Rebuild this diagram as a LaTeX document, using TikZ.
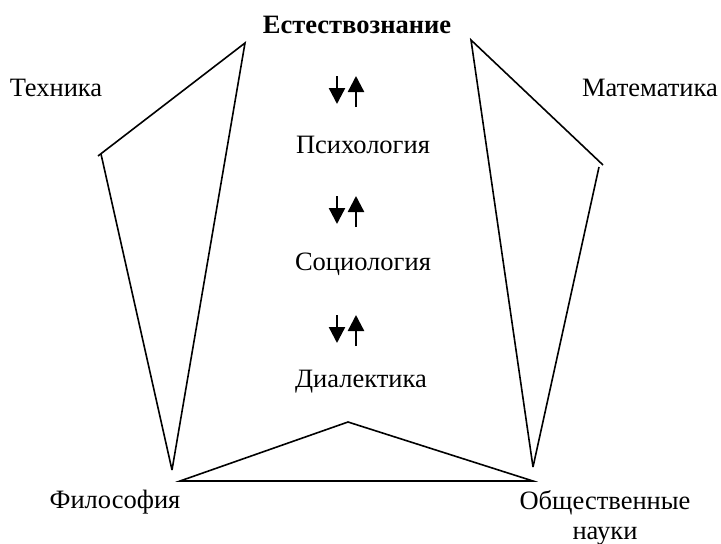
\documentclass[tikz,border=0pt]{standalone}
\usepackage{fontspec}
\setmainfont{Liberation Serif}
\usepackage{tikz}
\usetikzlibrary{positioning, arrows.meta}

\begin{document}
\begin{tikzpicture}[
  x=1pt, y=-1pt,
  term/.style={font=\fontsize{26.5}{30}\selectfont, inner sep=2pt, align=center},
  edge/.style={line width=1.6pt, line join=miter},
  flow/.style={line width=2.4pt, -{Triangle[length=16pt, width=16pt]}},
]
  \useasboundingbox (0,0) rectangle (721,544);

  % Disciplines
  \node[term, font=\fontsize{26.5}{30}\selectfont\bfseries] (nat) at (357,25) {Естествознание};
  \node[term] (tech) at (56,88) {Техника};
  \node[term] (math) at (650,88) {Математика};
  \node[term] (psy) at (363,145) {Психология};
  \node[term] (soc) at (363,264) {Социология};
  \node[term] (dia) at (361,382) {Диалектика};
  \node[term] (phil) at (115,502) {Философия};
  \node[term, anchor=base] (pub) at (605,539) {Общественные\\науки};

  % Corner points of the frame
  \coordinate (lTop) at (245,43);
  \coordinate (lOut) at (98,156);
  \coordinate (lLow) at (172,470);
  \coordinate (rTop) at (471,40);
  \coordinate (rOut) at (603,165);
  \coordinate (rLow) at (533,467);
  \coordinate (apex) at (348,422);
  \coordinate (bL) at (180,481);
  \coordinate (bR) at (533,481);

  \draw[edge] (lOut) -- (lTop) -- (lLow);
  \draw[edge] ([xshift=3pt,yshift=2pt]lOut) -- (lLow);
  \draw[edge] (rOut) -- (rTop) -- (rLow);
  \draw[edge] ([xshift=-4pt,yshift=-2pt]rOut) -- (rLow);
  \draw[edge] (bL) -- (apex) -- (bR) -- cycle;

  % Two-way links between the levels
  \draw[flow] (337,76) -- (337,104);
  \draw[flow] (356,107) -- (356,76);
  \draw[flow] (337,196) -- (337,224);
  \draw[flow] (356,227) -- (356,196);
  \draw[flow] (337,315) -- (337,343);
  \draw[flow] (356,346) -- (356,315);
\end{tikzpicture}
\end{document}
